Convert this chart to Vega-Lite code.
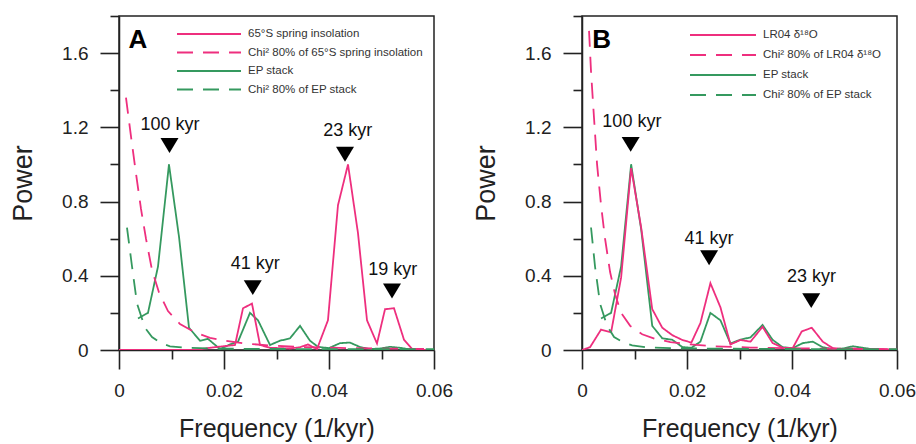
{
  "$schema": "https://vega.github.io/schema/vega-lite/v6.json",
  "autosize": {"type": "none"},
  "padding": {"left": 119, "top": 16, "right": 797, "bottom": 428},
  "background": "white",
  "config": {
    "font": "Liberation Sans",
    "view": {"stroke": "#222", "strokeWidth": 1.5},
    "axis": {"zindex": 1, "ticks": true, "tickOpacity": 1, "domainColor": "#222", "domainWidth": 1.5, "tickColor": "#222", "tickWidth": 1.6, "labelColor": "#222", "titleColor": "#222", "labelFont": "Liberation Sans", "titleFont": "Liberation Sans", "grid": false, "labelFlush": false, "labelOverlap": false, "titleFontWeight": "normal"}
  },
  "datasets": {
    "curves": [
      {"panel": "A", "series": "EP stack", "f": 0.00362, "p": 0.17},
      {"panel": "A", "series": "EP stack", "f": 0.00552, "p": 0.2},
      {"panel": "A", "series": "EP stack", "f": 0.00743, "p": 0.45},
      {"panel": "A", "series": "EP stack", "f": 0.00952, "p": 1.0},
      {"panel": "A", "series": "EP stack", "f": 0.01143, "p": 0.61},
      {"panel": "A", "series": "EP stack", "f": 0.01333, "p": 0.12},
      {"panel": "A", "series": "EP stack", "f": 0.01543, "p": 0.05},
      {"panel": "A", "series": "EP stack", "f": 0.01695, "p": 0.06},
      {"panel": "A", "series": "EP stack", "f": 0.01924, "p": 0.005},
      {"panel": "A", "series": "EP stack", "f": 0.02114, "p": 0.03},
      {"panel": "A", "series": "EP stack", "f": 0.02267, "p": 0.045},
      {"panel": "A", "series": "EP stack", "f": 0.02495, "p": 0.2},
      {"panel": "A", "series": "EP stack", "f": 0.02648, "p": 0.16},
      {"panel": "A", "series": "EP stack", "f": 0.02876, "p": 0.027},
      {"panel": "A", "series": "EP stack", "f": 0.03067, "p": 0.05},
      {"panel": "A", "series": "EP stack", "f": 0.03257, "p": 0.063},
      {"panel": "A", "series": "EP stack", "f": 0.03448, "p": 0.13},
      {"panel": "A", "series": "EP stack", "f": 0.03638, "p": 0.05},
      {"panel": "A", "series": "EP stack", "f": 0.0379, "p": 0.017},
      {"panel": "A", "series": "EP stack", "f": 0.04, "p": 0.01},
      {"panel": "A", "series": "EP stack", "f": 0.0421, "p": 0.037},
      {"panel": "A", "series": "EP stack", "f": 0.044, "p": 0.04},
      {"panel": "A", "series": "EP stack", "f": 0.0459, "p": 0.016},
      {"panel": "A", "series": "EP stack", "f": 0.04781, "p": 0.005},
      {"panel": "A", "series": "EP stack", "f": 0.04971, "p": 0.008},
      {"panel": "A", "series": "EP stack", "f": 0.05162, "p": 0.017},
      {"panel": "A", "series": "EP stack", "f": 0.05352, "p": 0.012},
      {"panel": "A", "series": "EP stack", "f": 0.05543, "p": 0.003},
      {"panel": "A", "series": "EP stack", "f": 0.05733, "p": 0.0},

      {"panel": "A", "series": "65°S spring insolation", "f": 0.0, "p": 0.0},
      {"panel": "A", "series": "65°S spring insolation", "f": 0.0019, "p": 0.0},
      {"panel": "A", "series": "65°S spring insolation", "f": 0.0038, "p": 0.0},
      {"panel": "A", "series": "65°S spring insolation", "f": 0.0057, "p": 0.0},
      {"panel": "A", "series": "65°S spring insolation", "f": 0.0076, "p": 0.0},
      {"panel": "A", "series": "65°S spring insolation", "f": 0.0095, "p": 0.0},
      {"panel": "A", "series": "65°S spring insolation", "f": 0.0114, "p": 0.0},
      {"panel": "A", "series": "65°S spring insolation", "f": 0.0133, "p": 0.0},
      {"panel": "A", "series": "65°S spring insolation", "f": 0.01524, "p": 0.003},
      {"panel": "A", "series": "65°S spring insolation", "f": 0.01733, "p": 0.012},
      {"panel": "A", "series": "65°S spring insolation", "f": 0.01981, "p": 0.02},
      {"panel": "A", "series": "65°S spring insolation", "f": 0.0221, "p": 0.027},
      {"panel": "A", "series": "65°S spring insolation", "f": 0.02362, "p": 0.225},
      {"panel": "A", "series": "65°S spring insolation", "f": 0.02533, "p": 0.25},
      {"panel": "A", "series": "65°S spring insolation", "f": 0.02686, "p": 0.027},
      {"panel": "A", "series": "65°S spring insolation", "f": 0.02876, "p": 0.012},
      {"panel": "A", "series": "65°S spring insolation", "f": 0.03067, "p": 0.01},
      {"panel": "A", "series": "65°S spring insolation", "f": 0.03257, "p": 0.008},
      {"panel": "A", "series": "65°S spring insolation", "f": 0.03448, "p": 0.015},
      {"panel": "A", "series": "65°S spring insolation", "f": 0.036, "p": 0.03},
      {"panel": "A", "series": "65°S spring insolation", "f": 0.03771, "p": 0.005},
      {"panel": "A", "series": "65°S spring insolation", "f": 0.0398, "p": 0.16},
      {"panel": "A", "series": "65°S spring insolation", "f": 0.04171, "p": 0.78},
      {"panel": "A", "series": "65°S spring insolation", "f": 0.04362, "p": 1.0},
      {"panel": "A", "series": "65°S spring insolation", "f": 0.04552, "p": 0.63},
      {"panel": "A", "series": "65°S spring insolation", "f": 0.04724, "p": 0.16},
      {"panel": "A", "series": "65°S spring insolation", "f": 0.04914, "p": 0.035},
      {"panel": "A", "series": "65°S spring insolation", "f": 0.05067, "p": 0.22},
      {"panel": "A", "series": "65°S spring insolation", "f": 0.05238, "p": 0.225},
      {"panel": "A", "series": "65°S spring insolation", "f": 0.05429, "p": 0.055},
      {"panel": "A", "series": "65°S spring insolation", "f": 0.056, "p": 0.0},
      {"panel": "A", "series": "65°S spring insolation", "f": 0.0581, "p": 0.0},
      {"panel": "A", "series": "65°S spring insolation", "f": 0.06, "p": 0.0},

      {"panel": "A", "series": "Chi² 80% of 65°S spring insolation", "f": 0.00133, "p": 1.36},
      {"panel": "A", "series": "Chi² 80% of 65°S spring insolation", "f": 0.00229, "p": 1.15},
      {"panel": "A", "series": "Chi² 80% of 65°S spring insolation", "f": 0.00324, "p": 0.95},
      {"panel": "A", "series": "Chi² 80% of 65°S spring insolation", "f": 0.00419, "p": 0.76},
      {"panel": "A", "series": "Chi² 80% of 65°S spring insolation", "f": 0.00514, "p": 0.6},
      {"panel": "A", "series": "Chi² 80% of 65°S spring insolation", "f": 0.00629, "p": 0.43},
      {"panel": "A", "series": "Chi² 80% of 65°S spring insolation", "f": 0.00762, "p": 0.31},
      {"panel": "A", "series": "Chi² 80% of 65°S spring insolation", "f": 0.00933, "p": 0.21},
      {"panel": "A", "series": "Chi² 80% of 65°S spring insolation", "f": 0.01162, "p": 0.14},
      {"panel": "A", "series": "Chi² 80% of 65°S spring insolation", "f": 0.01448, "p": 0.095},
      {"panel": "A", "series": "Chi² 80% of 65°S spring insolation", "f": 0.01733, "p": 0.065},
      {"panel": "A", "series": "Chi² 80% of 65°S spring insolation", "f": 0.02019, "p": 0.05},
      {"panel": "A", "series": "Chi² 80% of 65°S spring insolation", "f": 0.024, "p": 0.035},
      {"panel": "A", "series": "Chi² 80% of 65°S spring insolation", "f": 0.02876, "p": 0.024},
      {"panel": "A", "series": "Chi² 80% of 65°S spring insolation", "f": 0.03448, "p": 0.016},
      {"panel": "A", "series": "Chi² 80% of 65°S spring insolation", "f": 0.0421, "p": 0.011},
      {"panel": "A", "series": "Chi² 80% of 65°S spring insolation", "f": 0.04971, "p": 0.008},
      {"panel": "A", "series": "Chi² 80% of 65°S spring insolation", "f": 0.06, "p": 0.005},

      {"panel": "A", "series": "Chi² 80% of EP stack", "f": 0.00152, "p": 0.66},
      {"panel": "A", "series": "Chi² 80% of EP stack", "f": 0.00248, "p": 0.45},
      {"panel": "A", "series": "Chi² 80% of EP stack", "f": 0.00343, "p": 0.25},
      {"panel": "A", "series": "Chi² 80% of EP stack", "f": 0.00495, "p": 0.12},
      {"panel": "A", "series": "Chi² 80% of EP stack", "f": 0.00629, "p": 0.07},
      {"panel": "A", "series": "Chi² 80% of EP stack", "f": 0.00781, "p": 0.04},
      {"panel": "A", "series": "Chi² 80% of EP stack", "f": 0.00971, "p": 0.02},
      {"panel": "A", "series": "Chi² 80% of EP stack", "f": 0.01257, "p": 0.012},
      {"panel": "A", "series": "Chi² 80% of EP stack", "f": 0.01733, "p": 0.008},
      {"panel": "A", "series": "Chi² 80% of EP stack", "f": 0.02495, "p": 0.006},
      {"panel": "A", "series": "Chi² 80% of EP stack", "f": 0.03448, "p": 0.005},
      {"panel": "A", "series": "Chi² 80% of EP stack", "f": 0.06, "p": 0.004},

      {"panel": "B", "series": "EP stack", "f": 0.00363, "p": 0.17},
      {"panel": "B", "series": "EP stack", "f": 0.00554, "p": 0.2},
      {"panel": "B", "series": "EP stack", "f": 0.00745, "p": 0.45},
      {"panel": "B", "series": "EP stack", "f": 0.00936, "p": 1.0},
      {"panel": "B", "series": "EP stack", "f": 0.01127, "p": 0.65},
      {"panel": "B", "series": "EP stack", "f": 0.01338, "p": 0.13},
      {"panel": "B", "series": "EP stack", "f": 0.01529, "p": 0.063},
      {"panel": "B", "series": "EP stack", "f": 0.0172, "p": 0.055},
      {"panel": "B", "series": "EP stack", "f": 0.01911, "p": 0.016},
      {"panel": "B", "series": "EP stack", "f": 0.02083, "p": 0.012},
      {"panel": "B", "series": "EP stack", "f": 0.02255, "p": 0.045},
      {"panel": "B", "series": "EP stack", "f": 0.02446, "p": 0.2},
      {"panel": "B", "series": "EP stack", "f": 0.02637, "p": 0.16},
      {"panel": "B", "series": "EP stack", "f": 0.02828, "p": 0.035},
      {"panel": "B", "series": "EP stack", "f": 0.03019, "p": 0.056},
      {"panel": "B", "series": "EP stack", "f": 0.0321, "p": 0.068},
      {"panel": "B", "series": "EP stack", "f": 0.03439, "p": 0.135},
      {"panel": "B", "series": "EP stack", "f": 0.0363, "p": 0.055},
      {"panel": "B", "series": "EP stack", "f": 0.03822, "p": 0.015},
      {"panel": "B", "series": "EP stack", "f": 0.04013, "p": 0.01},
      {"panel": "B", "series": "EP stack", "f": 0.04204, "p": 0.037},
      {"panel": "B", "series": "EP stack", "f": 0.04395, "p": 0.045},
      {"panel": "B", "series": "EP stack", "f": 0.04586, "p": 0.015},
      {"panel": "B", "series": "EP stack", "f": 0.04777, "p": 0.005},
      {"panel": "B", "series": "EP stack", "f": 0.04968, "p": 0.008},
      {"panel": "B", "series": "EP stack", "f": 0.05159, "p": 0.02},
      {"panel": "B", "series": "EP stack", "f": 0.0535, "p": 0.012},
      {"panel": "B", "series": "EP stack", "f": 0.0556, "p": 0.003},

      {"panel": "B", "series": "LR04 δ¹⁸O", "f": 0.0, "p": 0.0},
      {"panel": "B", "series": "LR04 δ¹⁸O", "f": 0.00153, "p": 0.015},
      {"panel": "B", "series": "LR04 δ¹⁸O", "f": 0.00363, "p": 0.11},
      {"panel": "B", "series": "LR04 δ¹⁸O", "f": 0.00554, "p": 0.095},
      {"panel": "B", "series": "LR04 δ¹⁸O", "f": 0.00745, "p": 0.39},
      {"panel": "B", "series": "LR04 δ¹⁸O", "f": 0.00936, "p": 0.98},
      {"panel": "B", "series": "LR04 δ¹⁸O", "f": 0.01127, "p": 0.66},
      {"panel": "B", "series": "LR04 δ¹⁸O", "f": 0.01338, "p": 0.22},
      {"panel": "B", "series": "LR04 δ¹⁸O", "f": 0.01529, "p": 0.12},
      {"panel": "B", "series": "LR04 δ¹⁸O", "f": 0.0172, "p": 0.08},
      {"panel": "B", "series": "LR04 δ¹⁸O", "f": 0.01911, "p": 0.054},
      {"panel": "B", "series": "LR04 δ¹⁸O", "f": 0.02083, "p": 0.04},
      {"panel": "B", "series": "LR04 δ¹⁸O", "f": 0.02255, "p": 0.145},
      {"panel": "B", "series": "LR04 δ¹⁸O", "f": 0.02446, "p": 0.36},
      {"panel": "B", "series": "LR04 δ¹⁸O", "f": 0.02637, "p": 0.23},
      {"panel": "B", "series": "LR04 δ¹⁸O", "f": 0.02828, "p": 0.03},
      {"panel": "B", "series": "LR04 δ¹⁸O", "f": 0.03019, "p": 0.054},
      {"panel": "B", "series": "LR04 δ¹⁸O", "f": 0.0321, "p": 0.045},
      {"panel": "B", "series": "LR04 δ¹⁸O", "f": 0.03439, "p": 0.125},
      {"panel": "B", "series": "LR04 δ¹⁸O", "f": 0.0363, "p": 0.038},
      {"panel": "B", "series": "LR04 δ¹⁸O", "f": 0.03822, "p": 0.012},
      {"panel": "B", "series": "LR04 δ¹⁸O", "f": 0.04013, "p": 0.01},
      {"panel": "B", "series": "LR04 δ¹⁸O", "f": 0.04185, "p": 0.1},
      {"panel": "B", "series": "LR04 δ¹⁸O", "f": 0.04376, "p": 0.12},
      {"panel": "B", "series": "LR04 δ¹⁸O", "f": 0.04586, "p": 0.045},
      {"panel": "B", "series": "LR04 δ¹⁸O", "f": 0.04777, "p": 0.01},
      {"panel": "B", "series": "LR04 δ¹⁸O", "f": 0.04968, "p": 0.006},
      {"panel": "B", "series": "LR04 δ¹⁸O", "f": 0.05159, "p": 0.008},
      {"panel": "B", "series": "LR04 δ¹⁸O", "f": 0.0535, "p": 0.005},
      {"panel": "B", "series": "LR04 δ¹⁸O", "f": 0.05541, "p": 0.004},
      {"panel": "B", "series": "LR04 δ¹⁸O", "f": 0.05732, "p": 0.004},
      {"panel": "B", "series": "LR04 δ¹⁸O", "f": 0.06, "p": 0.003},

      {"panel": "B", "series": "Chi² 80% of LR04 δ¹⁸O", "f": 0.00134, "p": 1.72},
      {"panel": "B", "series": "Chi² 80% of LR04 δ¹⁸O", "f": 0.00172, "p": 1.5},
      {"panel": "B", "series": "Chi² 80% of LR04 δ¹⁸O", "f": 0.00229, "p": 1.25},
      {"panel": "B", "series": "Chi² 80% of LR04 δ¹⁸O", "f": 0.00287, "p": 1.0},
      {"panel": "B", "series": "Chi² 80% of LR04 δ¹⁸O", "f": 0.00363, "p": 0.78},
      {"panel": "B", "series": "Chi² 80% of LR04 δ¹⁸O", "f": 0.00439, "p": 0.6},
      {"panel": "B", "series": "Chi² 80% of LR04 δ¹⁸O", "f": 0.00535, "p": 0.42},
      {"panel": "B", "series": "Chi² 80% of LR04 δ¹⁸O", "f": 0.00631, "p": 0.3},
      {"panel": "B", "series": "Chi² 80% of LR04 δ¹⁸O", "f": 0.00745, "p": 0.2},
      {"panel": "B", "series": "Chi² 80% of LR04 δ¹⁸O", "f": 0.00917, "p": 0.13},
      {"panel": "B", "series": "Chi² 80% of LR04 δ¹⁸O", "f": 0.01146, "p": 0.085},
      {"panel": "B", "series": "Chi² 80% of LR04 δ¹⁸O", "f": 0.01395, "p": 0.06},
      {"panel": "B", "series": "Chi² 80% of LR04 δ¹⁸O", "f": 0.01682, "p": 0.043},
      {"panel": "B", "series": "Chi² 80% of LR04 δ¹⁸O", "f": 0.02064, "p": 0.03},
      {"panel": "B", "series": "Chi² 80% of LR04 δ¹⁸O", "f": 0.02541, "p": 0.02},
      {"panel": "B", "series": "Chi² 80% of LR04 δ¹⁸O", "f": 0.0321, "p": 0.013},
      {"panel": "B", "series": "Chi² 80% of LR04 δ¹⁸O", "f": 0.04166, "p": 0.009},
      {"panel": "B", "series": "Chi² 80% of LR04 δ¹⁸O", "f": 0.05121, "p": 0.006},
      {"panel": "B", "series": "Chi² 80% of LR04 δ¹⁸O", "f": 0.06, "p": 0.005},

      {"panel": "B", "series": "Chi² 80% of EP stack", "f": 0.00172, "p": 0.66},
      {"panel": "B", "series": "Chi² 80% of EP stack", "f": 0.00248, "p": 0.45},
      {"panel": "B", "series": "Chi² 80% of EP stack", "f": 0.00344, "p": 0.25},
      {"panel": "B", "series": "Chi² 80% of EP stack", "f": 0.00478, "p": 0.13},
      {"panel": "B", "series": "Chi² 80% of EP stack", "f": 0.00611, "p": 0.07},
      {"panel": "B", "series": "Chi² 80% of EP stack", "f": 0.00764, "p": 0.045},
      {"panel": "B", "series": "Chi² 80% of EP stack", "f": 0.00955, "p": 0.025},
      {"panel": "B", "series": "Chi² 80% of EP stack", "f": 0.01204, "p": 0.015},
      {"panel": "B", "series": "Chi² 80% of EP stack", "f": 0.01682, "p": 0.01},
      {"panel": "B", "series": "Chi² 80% of EP stack", "f": 0.02637, "p": 0.007},
      {"panel": "B", "series": "Chi² 80% of EP stack", "f": 0.04166, "p": 0.005},
      {"panel": "B", "series": "Chi² 80% of EP stack", "f": 0.06, "p": 0.004}
    ],
    "annot": [
      {"panel": "A", "kind": "arrow", "f": 0.00962, "p": 1.102, "text": ""},
      {"panel": "A", "kind": "arrow", "f": 0.02548, "p": 0.336, "text": ""},
      {"panel": "A", "kind": "arrow", "f": 0.04305, "p": 1.055, "text": ""},
      {"panel": "A", "kind": "arrow", "f": 0.052, "p": 0.318, "text": ""},
      {"panel": "A", "kind": "label", "f": 0.00971, "p": 1.186, "text": "100 kyr"},
      {"panel": "A", "kind": "label", "f": 0.02597, "p": 0.434, "text": "41 kyr"},
      {"panel": "A", "kind": "label", "f": 0.04356, "p": 1.154, "text": "23 kyr"},
      {"panel": "A", "kind": "label", "f": 0.05215, "p": 0.403, "text": "19 kyr"},
      {"panel": "A", "kind": "letter", "f": 0.00362, "p": 1.629, "text": "A"},
      {"panel": "B", "kind": "arrow", "f": 0.00927, "p": 1.108, "text": ""},
      {"panel": "B", "kind": "arrow", "f": 0.02421, "p": 0.497, "text": ""},
      {"panel": "B", "kind": "arrow", "f": 0.04366, "p": 0.266, "text": ""},
      {"panel": "B", "kind": "label", "f": 0.0095, "p": 1.204, "text": "100 kyr"},
      {"panel": "B", "kind": "label", "f": 0.02421, "p": 0.57, "text": "41 kyr"},
      {"panel": "B", "kind": "label", "f": 0.04372, "p": 0.367, "text": "23 kyr"},
      {"panel": "B", "kind": "letter", "f": 0.00373, "p": 1.629, "text": "B"}
    ]
  },
  "spacing": 148,
  "bounds": "flush",
  "resolve": {"scale": {"color": "independent", "strokeDash": "independent"}, "legend": {"color": "independent", "strokeDash": "independent"}},
  "hconcat": [
    {
      "width": 315,
      "height": 334,
      "resolve": {"axis": {"x": "independent", "y": "independent"}},
      "layer": [
        {
          "data": {"name": "curves"},
          "transform": [{"filter": "datum.panel == 'A'"}],
          "mark": {"type": "line", "strokeWidth": 1.8, "clip": true},
          "encoding": {
            "x": {"field": "f", "type": "quantitative", "scale": {"domain": [0, 0.06], "nice": false},
              "axis": {"orient": "bottom", "title": "Frequency (1/kyr)", "values": [0, 0.02, 0.04, 0.06], "format": "~g", "ticks": true, "tickSize": 19, "tickColor": "#222", "tickWidth": 1.6, "labelPadding": 12, "labelFontSize": 19, "titleFontSize": 25, "titlePadding": 16}},
            "y": {"field": "p", "type": "quantitative", "scale": {"domain": [0, 1.8], "nice": false},
              "axis": {"orient": "left", "title": "Power", "values": [0, 0.4, 0.8, 1.2, 1.6], "format": "~g", "ticks": true, "tickSize": 19, "tickColor": "#222", "tickWidth": 1.6, "labelPadding": 12, "labelFontSize": 19, "titleFontSize": 27, "titlePadding": 24}},
            "color": {"field": "series", "type": "nominal",
              "scale": {"domain": ["65°S spring insolation", "Chi² 80% of 65°S spring insolation", "EP stack", "Chi² 80% of EP stack"], "range": ["#ee2f7e", "#ee2f7e", "#35995f", "#35995f"]},
              "legend": {"title": null, "orient": "none", "legendX": 57, "legendY": 10, "symbolType": "stroke", "symbolSize": 4096, "symbolStrokeWidth": 2, "clipHeight": 16, "rowPadding": 2.5, "labelFontSize": 11.5, "labelFont": "Liberation Sans", "labelColor": "#333", "labelOffset": 6, "labelLimit": 300, "padding": 0}},
            "strokeDash": {"field": "series", "type": "nominal",
              "scale": {"domain": ["65°S spring insolation", "Chi² 80% of 65°S spring insolation", "EP stack", "Chi² 80% of EP stack"], "range": [[1, 0], [16, 10], [1, 0], [16, 10]]},
              "legend": {"title": null, "orient": "none", "legendX": 57, "legendY": 10, "symbolType": "stroke", "symbolSize": 4096, "symbolStrokeWidth": 2, "clipHeight": 16, "rowPadding": 2.5, "labelFontSize": 11.5, "labelFont": "Liberation Sans", "labelColor": "#333", "labelOffset": 6, "labelLimit": 300, "padding": 0}}
          }
        },
        {
          "data": {"name": "annot"},
          "transform": [{"filter": "datum.panel == 'A' && datum.kind == 'arrow'"}],
          "mark": {"type": "point", "shape": "M-1,-0.83L1,-0.83L0,0.83Z", "filled": true, "color": "black", "size": 324, "opacity": 1, "strokeWidth": 0},
          "encoding": {
            "x": {"field": "f", "type": "quantitative", "axis": {"orient": "bottom", "title": null, "values": [0.01, 0.03, 0.05], "labels": false, "domain": false, "ticks": true, "tickSize": 9, "tickColor": "#222", "tickWidth": 1.6}},
            "y": {"field": "p", "type": "quantitative", "axis": {"orient": "left", "title": null, "values": [0.2, 0.6, 1.0, 1.4, 1.8], "labels": false, "domain": false, "ticks": true, "tickSize": 9, "tickColor": "#222", "tickWidth": 1.6}}
          }
        },
        {
          "data": {"name": "annot"},
          "transform": [{"filter": "datum.panel == 'A' && datum.kind == 'label'"}],
          "mark": {"type": "text", "fontSize": 18, "font": "Liberation Sans", "align": "center", "baseline": "alphabetic", "color": "#111"},
          "encoding": {"x": {"field": "f", "type": "quantitative", "axis": null}, "y": {"field": "p", "type": "quantitative", "axis": null}, "text": {"field": "text"}}
        },
        {
          "data": {"name": "annot"},
          "transform": [{"filter": "datum.panel == 'A' && datum.kind == 'letter'"}],
          "mark": {"type": "text", "fontSize": 26, "fontWeight": "bold", "font": "Liberation Sans", "align": "center", "baseline": "alphabetic", "color": "#000"},
          "encoding": {"x": {"field": "f", "type": "quantitative", "axis": null}, "y": {"field": "p", "type": "quantitative", "axis": null}, "text": {"field": "text"}}
        }
      ]
    },
    {
      "width": 315,
      "height": 334,
      "resolve": {"axis": {"x": "independent", "y": "independent"}},
      "layer": [
        {
          "data": {"name": "curves"},
          "transform": [{"filter": "datum.panel == 'B'"}],
          "mark": {"type": "line", "strokeWidth": 1.8, "clip": true},
          "encoding": {
            "x": {"field": "f", "type": "quantitative", "scale": {"domain": [0, 0.06], "nice": false},
              "axis": {"orient": "bottom", "title": "Frequency (1/kyr)", "values": [0, 0.02, 0.04, 0.06], "format": "~g", "ticks": true, "tickSize": 19, "tickColor": "#222", "tickWidth": 1.6, "labelPadding": 12, "labelFontSize": 19, "titleFontSize": 25, "titlePadding": 16}},
            "y": {"field": "p", "type": "quantitative", "scale": {"domain": [0, 1.8], "nice": false},
              "axis": {"orient": "left", "title": "Power", "values": [0, 0.4, 0.8, 1.2, 1.6], "format": "~g", "ticks": true, "tickSize": 19, "tickColor": "#222", "tickWidth": 1.6, "labelPadding": 12, "labelFontSize": 19, "titleFontSize": 27, "titlePadding": 24}},
            "color": {"field": "series", "type": "nominal",
              "scale": {"domain": ["LR04 δ¹⁸O", "Chi² 80% of LR04 δ¹⁸O", "EP stack", "Chi² 80% of EP stack"], "range": ["#ee2f7e", "#ee2f7e", "#35995f", "#35995f"]},
              "legend": {"title": null, "orient": "none", "legendX": 107, "legendY": 11, "symbolType": "stroke", "symbolSize": 4356, "symbolStrokeWidth": 2, "clipHeight": 16, "rowPadding": 4, "labelFontSize": 11.5, "labelFont": "Liberation Sans", "labelColor": "#333", "labelOffset": 6, "labelLimit": 300, "padding": 0}},
            "strokeDash": {"field": "series", "type": "nominal",
              "scale": {"domain": ["LR04 δ¹⁸O", "Chi² 80% of LR04 δ¹⁸O", "EP stack", "Chi² 80% of EP stack"], "range": [[1, 0], [16, 10], [1, 0], [16, 10]]},
              "legend": {"title": null, "orient": "none", "legendX": 107, "legendY": 11, "symbolType": "stroke", "symbolSize": 4356, "symbolStrokeWidth": 2, "clipHeight": 16, "rowPadding": 4, "labelFontSize": 11.5, "labelFont": "Liberation Sans", "labelColor": "#333", "labelOffset": 6, "labelLimit": 300, "padding": 0}}
          }
        },
        {
          "data": {"name": "annot"},
          "transform": [{"filter": "datum.panel == 'B' && datum.kind == 'arrow'"}],
          "mark": {"type": "point", "shape": "M-1,-0.83L1,-0.83L0,0.83Z", "filled": true, "color": "black", "size": 324, "opacity": 1, "strokeWidth": 0},
          "encoding": {
            "x": {"field": "f", "type": "quantitative", "axis": {"orient": "bottom", "title": null, "values": [0.01, 0.03, 0.05], "labels": false, "domain": false, "ticks": true, "tickSize": 9, "tickColor": "#222", "tickWidth": 1.6}},
            "y": {"field": "p", "type": "quantitative", "axis": {"orient": "left", "title": null, "values": [0.2, 0.6, 1.0, 1.4, 1.8], "labels": false, "domain": false, "ticks": true, "tickSize": 9, "tickColor": "#222", "tickWidth": 1.6}}
          }
        },
        {
          "data": {"name": "annot"},
          "transform": [{"filter": "datum.panel == 'B' && datum.kind == 'label'"}],
          "mark": {"type": "text", "fontSize": 18, "font": "Liberation Sans", "align": "center", "baseline": "alphabetic", "color": "#111"},
          "encoding": {"x": {"field": "f", "type": "quantitative", "axis": null}, "y": {"field": "p", "type": "quantitative", "axis": null}, "text": {"field": "text"}}
        },
        {
          "data": {"name": "annot"},
          "transform": [{"filter": "datum.panel == 'B' && datum.kind == 'letter'"}],
          "mark": {"type": "text", "fontSize": 26, "fontWeight": "bold", "font": "Liberation Sans", "align": "center", "baseline": "alphabetic", "color": "#000"},
          "encoding": {"x": {"field": "f", "type": "quantitative", "axis": null}, "y": {"field": "p", "type": "quantitative", "axis": null}, "text": {"field": "text"}}
        }
      ]
    }
  ]
}
